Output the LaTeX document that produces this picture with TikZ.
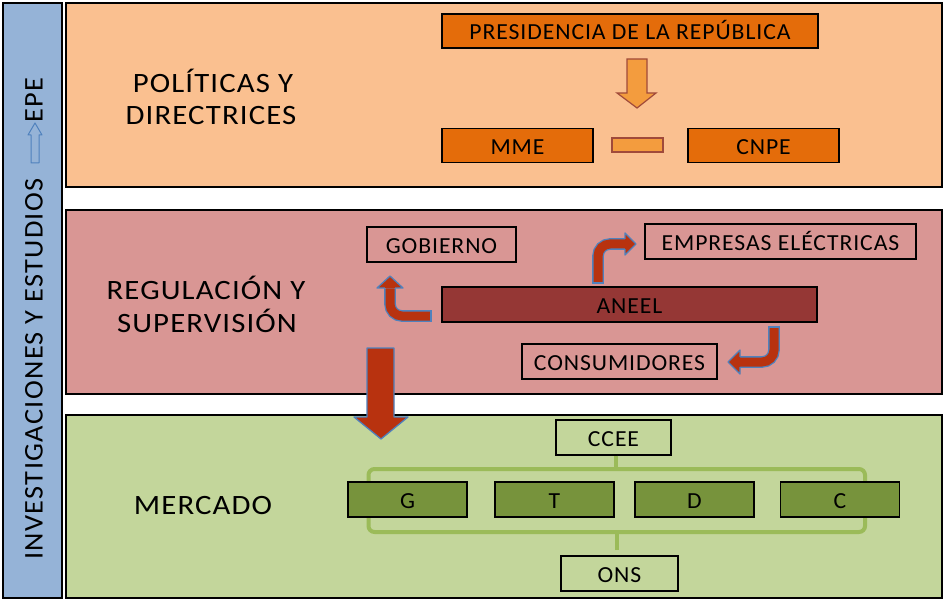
\documentclass[tikz,border=0pt]{standalone}
\usepackage{fontspec}
\setmainfont{Carlito}
\newfontfamily\lblfont[FakeStretch=1.1,LetterSpace=4]{Carlito}
\newfontfamily\boxfont[FakeStretch=1.03,LetterSpace=4]{Carlito}
\newfontfamily\vertfont[FakeStretch=1.05,LetterSpace=5]{Carlito}
\usetikzlibrary{calc}
\definecolor{bandblue}{HTML}{95B3D7}
\definecolor{bandorange}{HTML}{FAC090}
\definecolor{bandpink}{HTML}{D99694}
\definecolor{bandgreen}{HTML}{C3D69B}
\definecolor{boxorange}{HTML}{E46C0A}
\definecolor{arrorange}{HTML}{F39C3E}
\definecolor{arrbrown}{HTML}{A04A3A}
\definecolor{aneelred}{HTML}{953735}
\definecolor{arrred}{HTML}{B8320F}
\definecolor{arrblue}{HTML}{4F81BD}
\definecolor{boxgreen}{HTML}{77933C}
\definecolor{brkgreen}{HTML}{9BBB59}
\begin{document}
\begin{tikzpicture}[x=1pt,y=-1pt,
  band/.style={draw=black, line width=1.3pt},
  bx/.style={draw=black, line width=1.3pt, inner sep=0pt,
    font=\boxfont\fontsize{23}{27}\selectfont, text height=17.5pt, text depth=0pt},
  lbl/.style={inner sep=0pt, anchor=base, font=\lblfont\fontsize{28}{34}\selectfont},
  vtxt/.style={rotate=90, inner sep=0pt, font=\vertfont\fontsize{27}{32}\selectfont},
  redshaft/.style={draw=arrblue, line width=1.3pt, double=arrred, double distance=9pt, rounded corners=12pt},
  headfill/.style={fill=arrred},
  headline/.style={draw=arrblue, line width=1.3pt, line join=round},
  bigarrow/.style={fill=arrred, draw=arrblue, line width=1.3pt, line join=round},
  brk/.style={draw=brkgreen, line width=4pt, rounded corners=6pt},
  stem/.style={draw=brkgreen, line width=4pt},
  orarr/.style={fill=arrorange, draw=arrbrown, line width=1.2pt},
]
\useasboundingbox (0,0) rectangle (944,601);
\fill[white] (0,0) rectangle (944,601);

% bands
\draw[band, fill=bandblue]   (3,3)   rectangle (62,598);
\draw[band, fill=bandorange] (66,3)  rectangle (942,187);
\draw[band, fill=bandpink]   (66,210) rectangle (942,394);
\draw[band, fill=bandgreen]  (66,415) rectangle (942,598);

% vertical label
\node[vtxt, anchor=west] (inv) at (34,560) {INVESTIGACIONES Y ESTUDIOS};
\node[vtxt, anchor=east] (epe) at (34,77) {EPE};
\draw[arrblue, line width=1pt, line join=round]
  (31,163) -- (31,135) -- (28,135) -- (35,123) -- (42,135) -- (39,135) -- (39,163) -- cycle;

% band labels
\node[lbl] (pol1) at (213,93)  {POLÍTICAS Y};
\node[lbl] (pol2) at (211,125) {DIRECTRICES};
\node[lbl] (reg1) at (206,300) {REGULACIÓN Y};
\node[lbl] (reg2) at (207,332) {SUPERVISIÓN};
\node[lbl] (mer)  at (203,514) {MERCADO};

% politicas
\node[bx, fill=boxorange, minimum width=376pt, minimum height=34pt] (pres) at (630,31) {PRESIDENCIA DE LA REPÚBLICA};
\node[bx, fill=boxorange, minimum width=151pt, minimum height=34pt] (mme) at (517.5,145.5) {MME};
\node[bx, fill=boxorange, minimum width=151pt, minimum height=34pt] (cnpe) at (763.5,145.5) {CNPE};
\draw[orarr] (627,59) -- (647,59) -- (647,93) -- (656,93) -- (637,108) -- (617,93) -- (627,93) -- cycle;
\draw[orarr] (612,138) rectangle (663,152);

% regulacion
\node[bx, minimum width=149pt, minimum height=35pt] (gob) at (441.5,244.5) {GOBIERNO};
\node[bx, minimum width=271pt, minimum height=35pt] (emp) at (780.5,241.5) {EMPRESAS ELÉCTRICAS};
\node[bx, fill=aneelred, minimum width=375pt, minimum height=35pt] (aneel) at (629.5,304.5) {ANEEL};
\node[bx, minimum width=195pt, minimum height=35pt] (cons) at (619.5,361.5) {CONSUMIDORES};

% arrow ANEEL -> GOBIERNO
\coordinate (t1) at (431,316);
\draw[redshaft] (t1) -- (390,316) -- (390,288.3);
\fill[headfill] (377,288) -- (390,276) -- (403,288) -- cycle;
\draw[headline] (384.85,288) -- (377,288) -- (390,276) -- (403,288) -- (395.15,288);
\draw[arrblue, line width=1.3pt] (431,310.2) -- (431,321.8);

% arrow ANEEL -> EMPRESAS
\coordinate (t2) at (598,283);
\draw[redshaft] (t2) -- (598,244) -- (625.3,244);
\fill[headfill] (625,233) -- (636,244) -- (625,255) -- cycle;
\draw[headline] (625,238.85) -- (625,233) -- (636,244) -- (625,255) -- (625,249.15);
\draw[arrblue, line width=1.3pt] (592.2,283) -- (603.8,283);

% arrow ANEEL -> CONSUMIDORES
\coordinate (t3) at (774,327);
\draw[redshaft] (t3) -- (774,362) -- (739.7,362);
\fill[headfill] (740,350) -- (728,362) -- (740,374) -- cycle;
\draw[headline] (740,356.85) -- (740,350) -- (728,362) -- (740,374) -- (740,367.15);
\draw[arrblue, line width=1.3pt] (768.2,327) -- (779.8,327);

% big arrow to mercado
\draw[bigarrow] (367,348) -- (394,348) -- (394,417) -- (408,417) -- (381,439) -- (354,417) -- (367,417) -- cycle;

% mercado
\node[bx, minimum width=115pt, minimum height=35pt] (ccee) at (613.5,437.5) {CCEE};
\node[bx, minimum width=117pt, minimum height=35pt] (ons) at (619.5,573.5) {ONS};
\draw[stem] (ccee.south) ++(2.5,0) -- ++(0,14);
\draw[stem] ($(ons.north)+(-2.5,-5)$) -- ++(0,-19);
\coordinate (gpos) at (407.5,499.5);
\coordinate (cpos) at (840,499.5);
\draw[brk] ($(gpos)+(-39,-17.5)$) -- ($(gpos)+(-39,-30.5)$) -- ($(cpos)+(25,-30.5)$) -- ($(cpos)+(25,-17.5)$);
\draw[brk] ($(gpos)+(-39,17.5)$) -- ($(gpos)+(-39,32.5)$) -- ($(cpos)+(25,32.5)$) -- ($(cpos)+(25,17.5)$);
\node[bx, fill=boxgreen, minimum width=119pt, minimum height=35pt] (g) at (gpos) {G};
\node[bx, fill=boxgreen, minimum width=119pt, minimum height=35pt] (t) at (554.5,499.5) {T};
\node[bx, fill=boxgreen, minimum width=119pt, minimum height=35pt] (d) at (694.5,499.5) {D};
\node[bx, fill=boxgreen, minimum width=119pt, minimum height=35pt] (c) at (cpos) {C};
\end{tikzpicture}
\end{document}
